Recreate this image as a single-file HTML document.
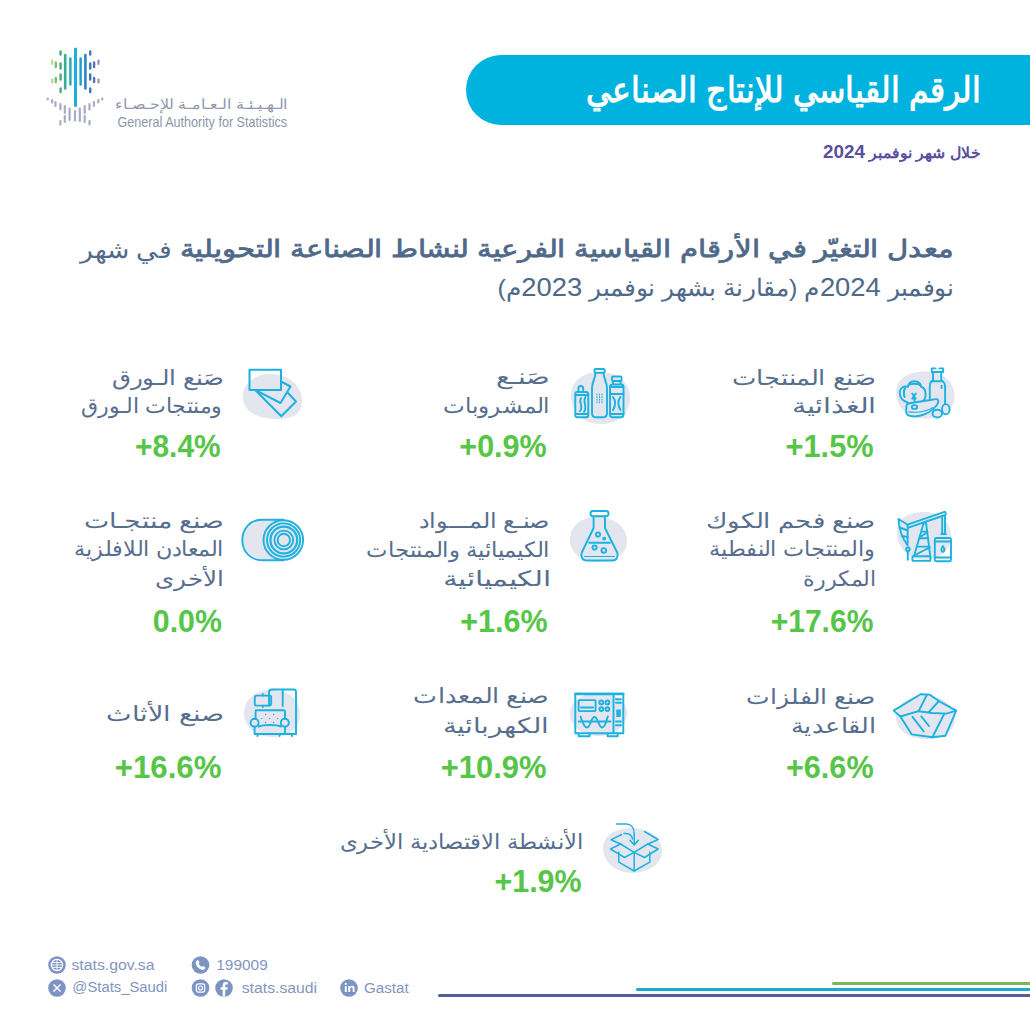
<!DOCTYPE html>
<html lang="ar">
<head>
<meta charset="utf-8">
<title>الرقم القياسي للإنتاج الصناعي</title>
<style>
html,body{margin:0;padding:0;background:#fff;}
body{width:1030px;height:1030px;position:relative;overflow:hidden;font-family:"Liberation Sans",sans-serif;}
.t{position:absolute;white-space:nowrap;line-height:1;transform-origin:100% 50%;}
.banner{position:absolute;left:466px;top:55px;width:600px;height:70px;border-radius:35px 0 0 35px;background:#00b2de;}
.ic{position:absolute;overflow:visible;}
.ln{position:absolute;height:3px;border-radius:2px 0 0 2px;}
</style>
</head>
<body>
<div class="banner"></div>

<!-- logo -->
<svg class="ic" style="left:0;top:0" width="120" height="140" viewBox="0 0 120 140">
<g stroke-linecap="round" fill="none" stroke-width="2.4">
 <line x1="75.5" y1="49" x2="75.5" y2="105.5" stroke="#1ab0d9" stroke-width="3"/>
 <line x1="70.4" y1="58.5" x2="70.4" y2="84.5" stroke="#23a9b9"/>
 <line x1="65.2" y1="55" x2="65.2" y2="88.5" stroke="#35ae95" stroke-width="2.6"/>
 <line x1="80.6" y1="58.5" x2="80.6" y2="84.5" stroke="#1a9dcc"/>
 <line x1="85.4" y1="55" x2="85.4" y2="88.5" stroke="#2a86c4" stroke-width="2.6"/>
 <g stroke="#44ae7a"><line x1="60.6" y1="51.5" x2="60.6" y2="54.5"/><line x1="60.6" y1="63.5" x2="60.6" y2="68.5"/><line x1="60.6" y1="74.5" x2="60.6" y2="79.5"/><line x1="60.6" y1="88.5" x2="60.6" y2="92"/></g>
 <g stroke="#7cc06a"><line x1="55.8" y1="62.5" x2="55.8" y2="67"/><line x1="55.8" y1="78" x2="55.8" y2="82"/></g>
 <g stroke="#b1d58a" stroke-width="2"><line x1="52.2" y1="60.5" x2="52.2" y2="64"/><line x1="52.2" y1="79.5" x2="52.2" y2="82.5"/></g>
 <g stroke="#3d77b8"><line x1="90.2" y1="51.5" x2="90.2" y2="54.5"/><line x1="90.2" y1="63.5" x2="90.2" y2="68.5"/><line x1="90.2" y1="74.5" x2="90.2" y2="79.5"/><line x1="90.2" y1="88.5" x2="90.2" y2="92"/></g>
 <g stroke="#5f6fb3"><line x1="94.1" y1="62.5" x2="94.1" y2="67"/><line x1="94.1" y1="78" x2="94.1" y2="82"/></g>
 <g stroke="#8a86bd" stroke-width="2"><line x1="98.5" y1="60.5" x2="98.5" y2="64"/><line x1="98.5" y1="79.5" x2="98.5" y2="82.5"/></g>
 <g stroke="#a7abc8" stroke-width="2.2">
  <line x1="47.8" y1="98.5" x2="47.8" y2="99.5"/>
  <line x1="52.1" y1="100" x2="52.1" y2="102.5"/>
  <line x1="55.5" y1="102" x2="55.5" y2="106"/>
  <line x1="60.4" y1="104" x2="60.4" y2="109.5"/>
  <line x1="64.8" y1="106" x2="64.8" y2="113"/>
  <line x1="69.6" y1="108.5" x2="69.6" y2="120"/>
  <line x1="75" y1="111" x2="75" y2="120.5"/>
  <line x1="79.8" y1="108.5" x2="79.8" y2="121"/>
  <line x1="84.7" y1="106" x2="84.7" y2="113"/>
  <line x1="89.5" y1="104" x2="89.5" y2="109.5"/>
  <line x1="93.9" y1="102" x2="93.9" y2="106"/>
  <line x1="98.3" y1="100" x2="98.3" y2="102.5"/>
  <line x1="102.2" y1="98.5" x2="102.2" y2="99.5"/>
  <line x1="64.8" y1="116" x2="64.8" y2="122"/>
  <line x1="60.4" y1="121" x2="60.4" y2="124.5"/>
  <line x1="84.7" y1="116" x2="84.7" y2="122"/>
  <line x1="89.5" y1="121" x2="89.5" y2="124.5"/>
 </g>
</g>
</svg>

<svg class="ic" style="left:0;top:0" width="1030" height="1030" viewBox="0 0 1030 1030">
<g fill="#e4e6ef">
 <!-- blobs -->
 <path d="M896 393 C896 378 909 371.5 925 371.5 C942 371.5 954.5 381 954.5 396 C954.5 410 943 418.5 926 418.5 C909 418.5 896 408 896 393Z"/>
 <path d="M571 396 C571 380 584 372 600 372 C617 372 630 382 630 398 C630 414 618 424 600 424 C584 424 571 412 571 396Z"/>
 <path d="M243 398 C242 383 256 373 272 374 C290 375 302 386 302 401 C302 415 290 420 275 419 C257 418 244 412 243 398Z"/>
 <path d="M897 532 C897 518 910 512 924 512 C940 512 951 522 951 536 C951 550 940 560 924 560 C909 560 897 548 897 532Z"/>
 <path d="M570 540 C570 525 582 517 598 517 C614 517 627 527 627 541 C627 555 615 562 598 562 C583 562 570 554 570 540Z"/>
 <path d="M243 540 C243 527 255 519 272 519 C289 519 301 527 301 540 C301 553 290 561 272 561 C256 561 243 553 243 540Z"/>
 <path d="M896 717 C896 704 909 696 925 696 C942 696 955 705 955 718 C955 731 943 739 925 739 C909 739 896 730 896 717Z"/>
 <path d="M570 713 C570 701 582 693 598 693 C615 693 627 701 627 713 C627 726 615 736 598 736 C582 736 570 726 570 713Z"/>
 <path d="M244 713 C244 699 256 690 272 690 C289 690 300 700 300 714 C300 728 289 737 272 737 C256 737 244 727 244 713Z"/>
 <path d="M603 848 C603 836 615 828 631 828 C648 828 662 838 662 851 C662 864 648 873 632 873 C615 873 603 861 603 848Z"/>
</g>
<g fill="none" stroke="#1cb2e0" stroke-width="1.9" stroke-linecap="round" stroke-linejoin="round">
 <!-- 1 food -->
 <g>
  <path d="M931.8 372 V368.4 H935.6 M939.4 368.4 H943.2 V372 H931.8"/>
  <path d="M933 372 V381 M941.2 372 V381 M931.5 381.2 H942.8 M931.5 381.2 C930.5 382.5 929.8 384 929.8 386 V400 M942.8 381.2 C944 382.5 945.1 384 945.1 386 V404"/>
  <path d="M941.6 385.6 V388"/>
  <ellipse cx="945.8" cy="409.2" rx="3.8" ry="5.1"/>
  <ellipse cx="937.3" cy="413.6" rx="4.8" ry="3.9"/>
  <path d="M908 402.6 C903 401 900 398 899.8 393.5 C899.6 389.5 902 386.8 905 386.5 C906 386.4 907.2 386.5 908 386.9 C908 383.5 911 381.2 914.2 381.2 C917.5 381.2 920.5 383 921 386.5 C924 387.5 925.6 390.5 925.6 394.5 C925.6 397.5 924.8 399.5 923.6 400.5"/>
  <path d="M908.5 384.8 C912 383.6 917 383.6 920.5 385"/>
  <path d="M905 388 C903.5 391 903.5 394 904.5 397"/>
  <path d="M912.2 393.5 L915.8 398.7 M915.8 393.5 L912.2 398.7 M914 396.1 L914.5 401"/>
  <path d="M907 404 C913 402.5 920 401.5 929 400.3 C933 399.6 936 398.6 937.4 399.4 C939 400.5 938.5 403 936.5 405.5 C933.5 409 929 412.5 925 414.2 C920 416.3 913 416.8 909 415.6 C906.5 414.8 906 412 906.2 409.5 C906.3 407.5 906.4 405.5 907 404Z"/>
  <path d="M909 411.8 C914 412.5 920 412.2 924.5 411 C928 410 931 408.8 932.5 407.6" stroke-width="1.2"/>
  <ellipse cx="914.5" cy="407" rx="2.7" ry="1.9"/>
 </g>
 <!-- 2 beverages -->
 <g>
  <path d="M578.4 392 V388.6 C578.4 385.2 583.2 385.2 583.2 388.6 V392"/>
  <rect x="575.3" y="392" width="13" height="25.3" rx="2"/>
  <path d="M575.3 395 H588.3 M575.3 414 H588.3"/>
  <path d="M581 398 C578 402 584 406 580 411 M585.5 397 C582 402 588 406 584 412"/>
  <rect x="594.3" y="369" width="10.5" height="3.8" rx="1.5"/>
  <path d="M595.5 372.8 C595.5 378 592 382 592 388 V413 C592 416 594 417.3 596 417.3 H603 C605 417.3 607 416 607 413 V388 C607 382 603.5 378 603.5 372.8"/>
  <g stroke-width="1" stroke-dasharray="1 1.6"><path d="M597 394 V403 M599.5 394 V403 M602 394 V403"/></g>
  <rect x="612" y="376.5" width="9.5" height="4.5" rx="1"/>
  <path d="M613 381 V384 M620.5 381 V384"/>
  <rect x="610" y="384.5" width="13.5" height="32.8" rx="2.5"/>
  <path d="M610 387 H623.5 M610 394 H623.5 M610 414 H623.5"/>
  <path d="M613 397 C616 401 616 405 613 410 M620.5 397 C617.5 401 617.5 405 620.5 410"/>
 </g>
 <!-- 3 paper -->
 <g stroke-width="2">
  <rect x="249.5" y="369.8" width="31.5" height="20.3"/>
  <path d="M281 381.5 L290.5 386.5 L280.5 403 L255.5 390.2"/>
  <path d="M288 393 L296 401.5 L281.3 416.3 L255.5 390.2"/>
 </g>
 <!-- 4 oil -->
 <g>
  <path d="M907.6 524.6 L944.4 511.8 C945.6 511.5 946.3 514.5 945.2 515 L908.4 527.6"/>
  <path d="M898.5 519 L907.6 524.8 V545.5 C902.5 538.5 899 529 898.5 519Z"/>
  <path d="M899.6 527.5 L907.6 530.5 M901.6 536 L907.6 537"/>
  <circle cx="907.9" cy="549.3" r="1.8"/>
  <path d="M907.8 551.2 V559.8"/>
  <path d="M942.2 515.8 V534 M945 515.8 V534 M941.3 534 H945.9"/>
  <path d="M923.3 524.2 C923.3 521.6 926.2 521.6 926.2 524.2"/>
  <path d="M923.3 524.2 L914 556.3 M926.2 524.2 L930.3 556.3"/>
  <path d="M921.6 531.6 H927.3 M919.8 538.2 H928.3 M917.8 546.6 H929.3"/>
  <path d="M920.6 536.8 L927.4 532.2 M916 554.5 L929.8 547.4"/>
  <rect x="912.4" y="556.3" width="18" height="4.6" rx="0.6"/>
  <rect x="934.8" y="538" width="16.2" height="23.2" rx="1.5"/>
  <path d="M934.8 541.5 H951 M934.8 557.5 H951"/>
  <path d="M942.9 546 C941 549 940.8 551 942.9 552 C945 551 944.8 549 942.9 546Z"/>
 </g>
 <!-- 5 flask -->
 <g>
  <rect x="590.5" y="511" width="18" height="5.3" rx="2.5"/>
  <path d="M593.6 516.3 V528 L581.8 552.5 C580.5 556 582 560.5 586.5 560.5 H612.5 C617 560.5 618.5 556 617.2 552.5 L605 528 V516.3"/>
  <path d="M589.2 542.8 H609.8"/>
  <path d="M584.5 556.5 H614.5" stroke-width="1.2"/>
  <circle cx="598" cy="534.6" r="2.1"/>
  <circle cx="604.2" cy="538.6" r="1" fill="#1cb2e0"/>
  <circle cx="594.6" cy="547.6" r="2.1"/>
  <circle cx="603.8" cy="550.4" r="2.3"/>
 </g>
 <!-- 6 roll -->
 <g>
  <path d="M283.5 519.7 H262 C250.5 519.7 242.3 528.5 242.3 540 C242.3 551.5 250.5 560.2 262 560.2 H283.5"/>
  <circle cx="283.3" cy="540" r="19.8"/>
  <circle cx="283.6" cy="540" r="16.6"/>
  <circle cx="283.8" cy="540" r="13.4" stroke-width="2.2"/>
  <circle cx="283.8" cy="540" r="9.4"/>
  <circle cx="283.8" cy="540" r="6.2"/>
 </g>
 <!-- 7 metals -->
 <g>
  <path d="M893.6 710.6 L920.6 694.2 L929.5 694.6 L939.4 701.3 L956.2 710.6 L945.4 735.8 L932.4 737.3 L911.8 734.4 L900.4 716.5Z"/>
  <path d="M900.4 716.5 L918.6 711.2 L932 713 L946.5 713.6 L956.2 710.6"/>
  <path d="M918.6 711.2 L927 694.6 M928.6 712.4 L939 701"/>
  <path d="M944.3 713.6 L932.4 737.3"/>
  <path d="M912.5 716.8 L923.8 731.5 M921.3 716.3 L929 726"/>
 </g>
 <!-- 8 electrical -->
 <g>
  <rect x="575.3" y="693.8" width="48" height="39.5"/>
  <path d="M575.3 694 H623.3" stroke-width="2.4"/>
  <path d="M613.5 694 V733.3"/>
  <path d="M616 699.3 H621 M616 702.8 H621 M616 721.5 H621 M616 725.2 H621"/>
  <rect x="616.3" y="709.5" width="4.5" height="7.5" fill="#1cb2e0" stroke="none"/>
  <rect x="578.6" y="700.1" width="17" height="11" rx="0.8"/>
  <path d="M581 707.5 H593"/>
  <circle cx="601.3" cy="702.4" r="1.9"/><circle cx="607.4" cy="702.4" r="1.9"/>
  <circle cx="601.3" cy="709.1" r="1.9"/><circle cx="607.4" cy="709.1" r="1.9"/>
  <path d="M578.8 721.5 H610.5"/>
  <path d="M580.5 716.5 C582 720 583.5 727.5 587 727.5 C590.5 727.5 591 717 594.5 717 C598 717 598.5 727.5 602.2 727.5 C605.5 727.5 606.5 720 607.8 716.5"/>
  <path d="M578.6 733.8 V736.2 H589.6 V733.8 M607.6 733.8 V736.2 H617.6 V733.8"/>
 </g>
 <!-- 9 furniture -->
 <g>
  <path d="M269 705.5 V692 C269 690.5 270.5 689.5 272 689.5 H294 C295.5 689.5 296 690.5 296 692 V734"/>
  <path d="M282.7 689.8 V706"/>
  <rect x="254.8" y="695.6" width="16.4" height="10" rx="1.5"/>
  <path d="M262.8 695.6 V694 M262.8 705.6 V707"/>
  <path d="M255.6 719 V711 C255.6 710.5 256 710.2 256.5 710.2 H284 C284.5 710.2 285 710.5 285 711 V719"/>
  <circle cx="254.6" cy="722.8" r="4"/><circle cx="284.8" cy="722.8" r="4"/>
  <path d="M258.5 726.5 C264 724.5 276 724.5 281 726.5"/>
  <path d="M254.6 726.8 V734 H285 V726.8"/>
  <path d="M257.5 734 V736 M279.5 734 V736 M292 734 V736 M285 734 H296"/>
  <g fill="#1cb2e0" stroke="none"><circle cx="265.6" cy="714.5" r="0.7"/><circle cx="273.6" cy="714.5" r="0.7"/><circle cx="261.8" cy="718.6" r="0.7"/><circle cx="269.6" cy="718.6" r="0.7"/><circle cx="277.6" cy="718.6" r="0.7"/><circle cx="265.6" cy="722.5" r="0.7"/><circle cx="273.6" cy="722.5" r="0.7"/></g>
 </g>
 <!-- 10 box -->
 <g stroke-width="1.5">
  <path d="M618.8 852 V862.2 L634.2 871 L649.8 862.2 V852"/>
  <path d="M634.2 853.5 V871"/>
  <path d="M610.5 849 L620.6 844 L634.2 852.4 L624.5 857.5Z"/>
  <path d="M634.2 852.4 L647.8 844 L658.2 849 L644.5 857.5Z"/>
  <path d="M620.6 844 L611 839.8 L621.6 834.5 M647.8 844 L658.2 839.5 L644.5 831.5"/>
  <path d="M624 833.5 C630 833 632 836 632.5 839"/>
  <path d="M616.5 824 H626.5 C631 824 634.2 828 634.2 833 V844.5 M630 840.3 L634.2 845 L638.4 840.3"/>
 </g>
</g>
</svg>


<!-- footer icons -->
<svg class="ic" style="left:0;top:940px" width="380" height="70" viewBox="0 940 380 70">
 <g fill="#7d93c4">
  <circle cx="57" cy="965" r="8.8"/>
  <circle cx="57" cy="988" r="8.8"/>
  <circle cx="200.5" cy="965" r="8.8"/>
  <circle cx="200.5" cy="988" r="8.8"/>
  <circle cx="224" cy="988" r="8.8"/>
  <circle cx="349" cy="988" r="8.8"/>
 </g>
 <g fill="none" stroke="#fff" stroke-width="1.2">
  <circle cx="57" cy="965" r="5.6" stroke-width="1.3"/>
  <g stroke-width="0.9"><line x1="52.5" y1="962.6" x2="61.5" y2="962.6"/><line x1="51.8" y1="965" x2="62.2" y2="965"/><line x1="52.5" y1="967.4" x2="61.5" y2="967.4"/><line x1="57" y1="959.8" x2="57" y2="970.2"/></g>
  <path d="M53.5 984.5 L60.5 991.5 M60.5 984.5 L53.5 991.5" stroke-width="1.6"/>
  <rect x="196.3" y="983.8" width="8.4" height="8.4" rx="2.2"/>
  <circle cx="200.5" cy="988" r="2"/>
 </g>
 <path d="M197 960.5c1-0.6 1.8 0.2 2.3 1.3s-0.6 1.6-0.4 2.3c0.4 1.2 1.4 2.2 2.6 2.6 0.7 0.2 1.2-0.9 2.3-0.4s1.9 1.3 1.3 2.3c-0.6 1-2 1.6-3.3 1.2-2.8-0.9-5-3.1-5.9-5.9-0.4-1.3 0.1-2.8 1.1-3.4z" fill="#fff"/>
 <path d="M225.2 996.5v-6.8h2.2l0.3-2.5h-2.5v-1.6c0-0.7 0.2-1.2 1.3-1.2h1.3v-2.2c-0.3 0-1-0.1-1.9-0.1-1.9 0-3.2 1.2-3.2 3.3v1.8h-2.1v2.5h2.1v6.8z" fill="#fff"/>
 <g fill="#fff"><rect x="344.8" y="986" width="1.9" height="6"/><circle cx="345.75" cy="983.9" r="1.1"/><path d="M348.2 986h1.8v0.9c0.4-0.7 1.2-1.1 2.2-1.1 1.8 0 2.4 1.1 2.4 2.8v3.4h-1.9v-3c0-0.8-0.2-1.5-1.1-1.5s-1.4 0.6-1.4 1.6v2.9h-2z"/></g>
</svg>

<!-- footer lines -->
<div class="ln" style="left:438px;top:994px;width:600px;background:#5a5b9d;"></div>
<div class="ln" style="left:635.5px;top:987.5px;width:400px;background:#1ba9d3;"></div>
<div class="ln" style="left:832px;top:981.8px;width:200px;background:#78b85a;"></div>

<div class="t" style="top:72.00px;right:48.80px;font-family:'Liberation Sans',sans-serif;font-size:35px;font-weight:700;letter-spacing:0px;word-spacing:0px;direction:rtl;;color:#ffffff;transform:scaleX(0.9015)">الرقم القياسي للإنتاج الصناعي</div>
<div class="t" style="top:143.00px;right:49.45px;font-family:'Liberation Sans',sans-serif;font-size:14.5px;font-weight:700;letter-spacing:0px;word-spacing:0px;direction:rtl;;color:#5a4e9e;transform:scaleX(1.0459)">خلال شهر نوفمبر <span style="font-size:18px">2024</span></div>
<div class="t" style="top:236.50px;right:75.78px;font-family:'Liberation Sans',sans-serif;font-size:24.3px;font-weight:400;letter-spacing:0px;word-spacing:0px;direction:rtl;-webkit-text-stroke:0.75px;color:#4f6989;transform:scaleX(1.2175)">معدل التغيّر في الأرقام القياسية الفرعية لنشاط الصناعة التحويلية</div>
<div class="t" style="top:237.50px;right:859.49px;font-family:'Liberation Sans',sans-serif;font-size:24.3px;font-weight:400;letter-spacing:0px;word-spacing:0px;direction:rtl;;color:#4f6989;transform:scaleX(1.1085)">في شهر</div>
<div class="t" style="top:274.00px;right:75.93px;font-family:'Liberation Sans',sans-serif;font-size:24.3px;font-weight:400;letter-spacing:0px;word-spacing:0px;direction:rtl;;color:#4f6989;transform:scaleX(1.0328)">نوفمبر <span style="font-size:26.5px">2024</span>م (مقارنة بشهر نوفمبر <span style="font-size:26.5px">2023</span>م)</div>
<div class="t" style="top:366.70px;right:154.04px;font-family:'Liberation Sans',sans-serif;font-size:21px;font-weight:400;letter-spacing:0px;word-spacing:0px;direction:rtl;;color:#576e8e;transform:scaleX(1.2325)">صَنع المنتجات</div>
<div class="t" style="top:394.80px;right:154.27px;font-family:'Liberation Sans',sans-serif;font-size:21px;font-weight:400;letter-spacing:0px;word-spacing:0px;direction:rtl;;color:#576e8e;transform:scaleX(1.3627)">الغذائية</div>
<div class="t" style="top:429.90px;right:156.50px;font-family:'Liberation Sans',sans-serif;font-size:32px;font-weight:700;letter-spacing:0px;word-spacing:0px;direction:ltr;;color:#57c548;transform:scaleX(0.9615)">+1.5%</div>
<div class="t" style="top:509.70px;right:154.12px;font-family:'Liberation Sans',sans-serif;font-size:21px;font-weight:400;letter-spacing:0px;word-spacing:0px;direction:rtl;;color:#576e8e;transform:scaleX(1.2388)">صنع فحم الكوك</div>
<div class="t" style="top:538.30px;right:155.53px;font-family:'Liberation Sans',sans-serif;font-size:21px;font-weight:400;letter-spacing:0px;word-spacing:0px;direction:rtl;;color:#576e8e;transform:scaleX(1.0680)">والمنتجات النفطية</div>
<div class="t" style="top:567.80px;right:154.50px;font-family:'Liberation Sans',sans-serif;font-size:21px;font-weight:400;letter-spacing:0px;word-spacing:0px;direction:rtl;;color:#576e8e;transform:scaleX(1.0515)">المكررة</div>
<div class="t" style="top:605.20px;right:156.60px;font-family:'Liberation Sans',sans-serif;font-size:32px;font-weight:700;letter-spacing:0px;word-spacing:0px;direction:ltr;;color:#57c548;transform:scaleX(0.9394)">+17.6%</div>
<div class="t" style="top:685.60px;right:154.22px;font-family:'Liberation Sans',sans-serif;font-size:21px;font-weight:400;letter-spacing:0px;word-spacing:0px;direction:rtl;;color:#576e8e;transform:scaleX(1.1925)">صنع الفلزات</div>
<div class="t" style="top:715.00px;right:154.17px;font-family:'Liberation Sans',sans-serif;font-size:21px;font-weight:400;letter-spacing:0px;word-spacing:0px;direction:rtl;;color:#576e8e;transform:scaleX(1.2149)">القاعدية</div>
<div class="t" style="top:751.20px;right:156.60px;font-family:'Liberation Sans',sans-serif;font-size:32px;font-weight:700;letter-spacing:0px;word-spacing:0px;direction:ltr;;color:#57c548;transform:scaleX(0.9571)">+6.6%</div>
<div class="t" style="top:365.80px;right:479.95px;font-family:'Liberation Sans',sans-serif;font-size:21px;font-weight:400;letter-spacing:0px;word-spacing:0px;direction:rtl;;color:#576e8e;transform:scaleX(1.3263)">صَنـع</div>
<div class="t" style="top:395.00px;right:480.40px;font-family:'Liberation Sans',sans-serif;font-size:21px;font-weight:400;letter-spacing:0px;word-spacing:0px;direction:rtl;;color:#576e8e;transform:scaleX(1.1000)">المشروبات</div>
<div class="t" style="top:429.90px;right:483.00px;font-family:'Liberation Sans',sans-serif;font-size:32px;font-weight:700;letter-spacing:0px;word-spacing:0px;direction:ltr;;color:#57c548;transform:scaleX(0.9527)">+0.9%</div>
<div class="t" style="top:509.50px;right:479.92px;font-family:'Liberation Sans',sans-serif;font-size:21px;font-weight:400;letter-spacing:0px;word-spacing:0px;direction:rtl;;color:#576e8e;transform:scaleX(1.1384)">صنـع المـــواد</div>
<div class="t" style="top:539.00px;right:480.03px;font-family:'Liberation Sans',sans-serif;font-size:21px;font-weight:400;letter-spacing:0px;word-spacing:0px;direction:rtl;;color:#576e8e;transform:scaleX(1.0873)">الكيميائية والمنتجات</div>
<div class="t" style="top:567.60px;right:479.39px;font-family:'Liberation Sans',sans-serif;font-size:21px;font-weight:400;letter-spacing:0px;word-spacing:0px;direction:rtl;;color:#576e8e;transform:scaleX(1.4054)">الكيميائية</div>
<div class="t" style="top:605.20px;right:482.20px;font-family:'Liberation Sans',sans-serif;font-size:32px;font-weight:700;letter-spacing:0px;word-spacing:0px;direction:ltr;;color:#57c548;transform:scaleX(0.9538)">+1.6%</div>
<div class="t" style="top:685.30px;right:480.78px;font-family:'Liberation Sans',sans-serif;font-size:21px;font-weight:400;letter-spacing:0px;word-spacing:0px;direction:rtl;;color:#576e8e;transform:scaleX(1.2110)">صنع المعدات</div>
<div class="t" style="top:714.80px;right:480.57px;font-family:'Liberation Sans',sans-serif;font-size:21px;font-weight:400;letter-spacing:0px;word-spacing:0px;direction:rtl;;color:#576e8e;transform:scaleX(1.3141)">الكهربائية</div>
<div class="t" style="top:751.20px;right:483.20px;font-family:'Liberation Sans',sans-serif;font-size:32px;font-weight:700;letter-spacing:0px;word-spacing:0px;direction:ltr;;color:#57c548;transform:scaleX(0.9651)">+10.9%</div>
<div class="t" style="top:366.70px;right:806.67px;font-family:'Liberation Sans',sans-serif;font-size:21px;font-weight:400;letter-spacing:0px;word-spacing:0px;direction:rtl;;color:#576e8e;transform:scaleX(1.1656)">صَنع الـورق</div>
<div class="t" style="top:394.80px;right:807.95px;font-family:'Liberation Sans',sans-serif;font-size:21px;font-weight:400;letter-spacing:0px;word-spacing:0px;direction:rtl;;color:#576e8e;transform:scaleX(1.0500)">ومنتجات الـورق</div>
<div class="t" style="top:429.90px;right:809.00px;font-family:'Liberation Sans',sans-serif;font-size:32px;font-weight:700;letter-spacing:0px;word-spacing:0px;direction:ltr;;color:#57c548;transform:scaleX(0.9341)">+8.4%</div>
<div class="t" style="top:509.70px;right:805.85px;font-family:'Liberation Sans',sans-serif;font-size:21px;font-weight:400;letter-spacing:0px;word-spacing:0px;direction:rtl;;color:#576e8e;transform:scaleX(1.2766)">صنع منتجـات</div>
<div class="t" style="top:538.30px;right:806.28px;font-family:'Liberation Sans',sans-serif;font-size:21px;font-weight:400;letter-spacing:0px;word-spacing:0px;direction:rtl;;color:#576e8e;transform:scaleX(1.0623)">المعادن اللافلزية</div>
<div class="t" style="top:567.80px;right:806.06px;font-family:'Liberation Sans',sans-serif;font-size:21px;font-weight:400;letter-spacing:0px;word-spacing:0px;direction:rtl;;color:#576e8e;transform:scaleX(1.1714)">الأخرى</div>
<div class="t" style="top:605.20px;right:808.40px;font-family:'Liberation Sans',sans-serif;font-size:32px;font-weight:700;letter-spacing:0px;word-spacing:0px;direction:ltr;;color:#57c548;transform:scaleX(0.9486)">0.0%</div>
<div class="t" style="top:702.80px;right:806.41px;font-family:'Liberation Sans',sans-serif;font-size:21px;font-weight:400;letter-spacing:0px;word-spacing:0px;direction:rtl;;color:#576e8e;transform:scaleX(1.2932)">صنع الأثاث</div>
<div class="t" style="top:751.20px;right:808.20px;font-family:'Liberation Sans',sans-serif;font-size:32px;font-weight:700;letter-spacing:0px;word-spacing:0px;direction:ltr;;color:#57c548;transform:scaleX(0.9752)">+16.6%</div>
<div class="t" style="top:830.50px;right:446.24px;font-family:'Liberation Sans',sans-serif;font-size:21px;font-weight:400;letter-spacing:0px;word-spacing:0px;direction:rtl;;color:#576e8e;transform:scaleX(1.0812)">الأنشطة الاقتصادية الأخرى</div>
<div class="t" style="top:864.60px;right:448.40px;font-family:'Liberation Sans',sans-serif;font-size:32px;font-weight:700;letter-spacing:0px;word-spacing:0px;direction:ltr;;color:#57c548;transform:scaleX(0.9516)">+1.9%</div>
<div class="t" style="top:97.00px;right:742.37px;font-family:'Liberation Sans',sans-serif;font-size:14px;font-weight:400;letter-spacing:0px;word-spacing:0px;direction:rtl;;color:#9098ad;transform:scaleX(1.1325)">الـهـيـئـة الـعـامـة للإحـصـاء</div>
<div class="t" style="top:114.50px;right:742.63px;font-family:'Liberation Sans',sans-serif;font-size:14.5px;font-weight:400;letter-spacing:0px;word-spacing:0px;direction:ltr;;color:#8e96ab;transform:scaleX(0.8690)">General Authority for Statistics</div>
<div class="t" style="top:956.50px;right:875.00px;font-family:'Liberation Sans',sans-serif;font-size:15.5px;font-weight:400;letter-spacing:0px;word-spacing:0px;direction:ltr;;color:#8396c0;transform:scaleX(1.0193)">stats.gov.sa</div>
<div class="t" style="top:956.50px;right:762.31px;font-family:'Liberation Sans',sans-serif;font-size:15.5px;font-weight:400;letter-spacing:0px;word-spacing:0px;direction:ltr;;color:#8396c0;transform:scaleX(0.9942)">199009</div>
<div class="t" style="top:978.80px;right:862.44px;font-family:'Liberation Sans',sans-serif;font-size:15.5px;font-weight:400;letter-spacing:0px;word-spacing:0px;direction:ltr;;color:#8396c0;transform:scaleX(0.9564)">@Stats_Saudi</div>
<div class="t" style="top:979.50px;right:713.28px;font-family:'Liberation Sans',sans-serif;font-size:15.5px;font-weight:400;letter-spacing:0px;word-spacing:0px;direction:ltr;;color:#8396c0;transform:scaleX(1.0173)">stats.saudi</div>
<div class="t" style="top:979.50px;right:621.38px;font-family:'Liberation Sans',sans-serif;font-size:15.5px;font-weight:400;letter-spacing:0px;word-spacing:0px;direction:ltr;;color:#8396c0;transform:scaleX(0.9783)">Gastat</div>
</body>
</html>
